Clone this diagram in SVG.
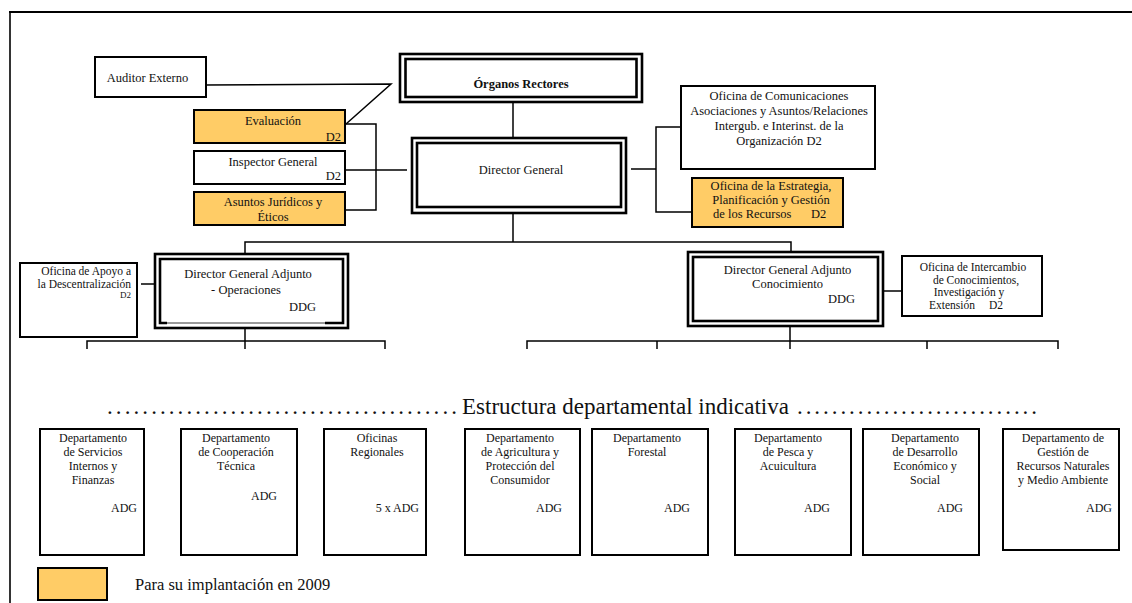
<svg xmlns="http://www.w3.org/2000/svg" width="1132" height="603" viewBox="0 0 1132 603" font-family="'Liberation Serif','Times New Roman','DejaVu Serif',serif">
<style>
text{font-family:"Liberation Serif","Times New Roman","DejaVu Serif",serif;fill:#111}
.t{font-size:12.5px}
.s{font-size:11.5px}
.d{font-size:12px}
.xs{font-size:9px}
.b{font-weight:bold}
.m{text-anchor:middle}
.e{text-anchor:end}
.box{fill:#fff;stroke:#000;stroke-width:2}
.org{fill:#FFCC66;stroke:#000;stroke-width:2}
.dbl{fill:#fff;stroke:#000;stroke-width:2.6}
.in{fill:none;stroke:#000;stroke-width:2.6}
.c{fill:none;stroke:#000;stroke-width:1.5}
</style>
<rect width="1132" height="603" fill="#fff"/>
<g id="frame">
<line x1="9" y1="12" x2="1132" y2="12" stroke="#000" stroke-width="2"/>
<line x1="10" y1="11" x2="10" y2="603" stroke="#000" stroke-width="1.6"/>
</g>
<g id="connectors">
<polyline class="c" points="205,85 391,84 346,124"/>
<polyline class="c" points="346,124 376,124 376,210 346,210"/>
<line class="c" x1="346" y1="170" x2="407" y2="170"/>
<line class="c" x1="513" y1="102" x2="513" y2="137"/>
<line class="c" x1="631" y1="169" x2="656" y2="169"/>
<polyline class="c" points="680,127 656,127 656,212 691,212"/>
<line class="c" x1="513" y1="213" x2="513" y2="242"/>
<polyline class="c" points="245,253 245,242 791,242 791,251"/>
<line class="c" x1="141" y1="284" x2="155" y2="284"/>
<line class="c" x1="884" y1="291" x2="901" y2="291"/>
<line class="c" x1="245" y1="328" x2="245" y2="341"/>
<polyline class="c" points="87,349 87,341 385,341 385,349"/>
<line class="c" x1="245" y1="341" x2="245" y2="349"/>
<line class="c" x1="790" y1="326" x2="790" y2="341"/>
<polyline class="c" points="527,349 527,341 1058,341 1058,349"/>
<line class="c" x1="657" y1="341" x2="657" y2="349"/>
<line class="c" x1="790" y1="341" x2="790" y2="349"/>
<line class="c" x1="927" y1="341" x2="927" y2="349"/>
</g>
<g id="auditor">
<rect class="box" x="95" y="57" width="111" height="40"/>
<text class="t m" x="147.5" y="82">Auditor Externo</text>
</g>
<g id="organos">
<rect class="dbl" x="400" y="54" width="242" height="48"/>
<rect class="in" x="405.5" y="59" width="231" height="38"/>
<text class="t b m" x="521" y="88">Órganos Rectores</text>
</g>
<g id="evaluacion">
<rect class="org" x="194" y="110" width="151" height="33"/>
<text class="t m" x="273" y="125">Evaluación</text>
<text class="t e" x="341" y="141">D2</text>
</g>
<g id="inspector">
<rect class="box" x="194" y="151" width="151" height="33"/>
<text class="t m" x="273" y="166">Inspector General</text>
<text class="t e" x="341" y="180">D2</text>
</g>
<g id="juridicos">
<rect class="org" x="194" y="192" width="151" height="33"/>
<text class="t m" x="273" y="206">Asuntos Jurídicos y</text>
<text class="t m" x="273" y="221">Éticos</text>
</g>
<g id="director-general">
<rect class="dbl" x="412" y="138" width="214" height="75"/>
<rect class="in" x="417" y="143" width="204" height="64"/>
<text class="t m" x="521" y="174">Director General</text>
</g>
<g id="comunicaciones">
<rect class="box" x="681" y="86" width="194" height="83"/>
<text class="t m" x="779" y="100">Oficina de Comunicaciones</text>
<text class="t m" x="779" y="115">Asociaciones y Asuntos/Relaciones</text>
<text class="t m" x="779" y="130">Intergub. e Interinst. de la</text>
<text class="t m" x="779" y="145">Organización D2</text>
</g>
<g id="estrategia">
<rect class="org" x="692" y="178" width="151" height="49"/>
<text class="t m" x="771" y="190">Oficina de la Estrategia,</text>
<text class="t m" x="771" y="204">Planificación y Gestión</text>
<text class="t" x="713" y="218">de los Recursos</text>
<text class="t" x="811" y="218">D2</text>
</g>
<g id="apoyo">
<rect class="box" x="20" y="263" width="117" height="74"/>
<text class="s e" x="131" y="275">Oficina de Apoyo a</text>
<text class="s e" x="131" y="288">la Descentralización</text>
<text class="xs e" x="131" y="298">D2</text>
</g>
<g id="dga-operaciones">
<rect class="dbl" x="155" y="254" width="193" height="74"/>
<path class="in" d="M167,323 H160 V259 H343 V323 H325"/>
<line x1="167" y1="323" x2="325" y2="323" stroke="#000" stroke-width="0.8"/>
<text class="t m" x="248" y="278">Director General  Adjunto</text>
<text class="t m" x="246" y="294">- Operaciones</text>
<text class="t e" x="316" y="311">DDG</text>
</g>
<g id="dga-conocimiento">
<rect class="dbl" x="688" y="252" width="195" height="74"/>
<rect class="in" x="693" y="257" width="185" height="64"/>
<text class="t m" x="787.5" y="274">Director General  Adjunto</text>
<text class="t m" x="787.5" y="288">Conocimiento</text>
<text class="t e" x="855" y="303">DDG</text>
</g>
<g id="intercambio">
<rect class="box" x="902" y="256" width="140" height="60"/>
<text class="s m" x="973" y="271">Oficina de Intercambio</text>
<text class="s m" x="976" y="284">de Conocimientos,</text>
<text class="s m" x="969" y="296">Investigación y</text>
<text class="s" x="929" y="309">Extensión</text>
<text class="s e" x="1003" y="309">D2</text>
</g>
<g id="estructura">
<text x="107" y="414" font-size="23" textLength="350" lengthAdjust="spacing">........................................</text>
<text x="462" y="414" font-size="23">Estructura departamental indicativa</text>
<text x="797" y="414" font-size="23" textLength="240" lengthAdjust="spacing">............................</text>
</g>
<g id="dep-servicios">
<rect class="box" x="40" y="429" width="104" height="126"/>
<text class="d m" x="93" y="442">Departamento</text>
<text class="d m" x="93" y="456">de Servicios</text>
<text class="d m" x="93" y="470">Internos y</text>
<text class="d m" x="93" y="484">Finanzas</text>
<text class="d e" x="137" y="512">ADG</text>
</g>
<g id="dep-cooperacion">
<rect class="box" x="181" y="429" width="116" height="126"/>
<text class="d m" x="236" y="442">Departamento</text>
<text class="d m" x="236" y="456">de Cooperación</text>
<text class="d m" x="236" y="470">Técnica</text>
<text class="d e" x="277" y="500">ADG</text>
</g>
<g id="oficinas-regionales">
<rect class="box" x="324" y="429" width="102" height="126"/>
<text class="d m" x="377" y="442">Oficinas</text>
<text class="d m" x="377" y="456">Regionales</text>
<text class="d e" x="419" y="512">5 x ADG</text>
</g>
<g id="dep-agricultura">
<rect class="box" x="465" y="429" width="115" height="126"/>
<text class="d m" x="520" y="442">Departamento</text>
<text class="d m" x="520" y="456">de Agricultura y</text>
<text class="d m" x="520" y="470">Protección del</text>
<text class="d m" x="520" y="484">Consumidor</text>
<text class="d e" x="562" y="512">ADG</text>
</g>
<g id="dep-forestal">
<rect class="box" x="592" y="429" width="116" height="126"/>
<text class="d m" x="647" y="442">Departamento</text>
<text class="d m" x="647" y="456">Forestal</text>
<text class="d e" x="690" y="512">ADG</text>
</g>
<g id="dep-pesca">
<rect class="box" x="735" y="429" width="116" height="126"/>
<text class="d m" x="788" y="442">Departamento</text>
<text class="d m" x="788" y="456">de Pesca y</text>
<text class="d m" x="788" y="470">Acuicultura</text>
<text class="d e" x="830" y="512">ADG</text>
</g>
<g id="dep-desarrollo">
<rect class="box" x="863" y="429" width="116" height="126"/>
<text class="d m" x="925" y="442">Departamento</text>
<text class="d m" x="925" y="456">de Desarrollo</text>
<text class="d m" x="925" y="470">Económico y</text>
<text class="d m" x="925" y="484">Social</text>
<text class="d e" x="963" y="512">ADG</text>
</g>
<g id="dep-recursos">
<rect class="box" x="1003" y="429" width="116" height="121"/>
<text class="d m" x="1063" y="442">Departamento de</text>
<text class="d m" x="1063" y="456">Gestión de</text>
<text class="d m" x="1063" y="470">Recursos Naturales</text>
<text class="d m" x="1063" y="484">y Medio Ambiente</text>
<text class="d e" x="1112" y="512">ADG</text>
</g>
<g id="legend">
<rect class="org" x="38" y="568" width="69" height="32"/>
<text x="135" y="590" font-size="16.5">Para su implantación en 2009</text>
</g>
</svg>
